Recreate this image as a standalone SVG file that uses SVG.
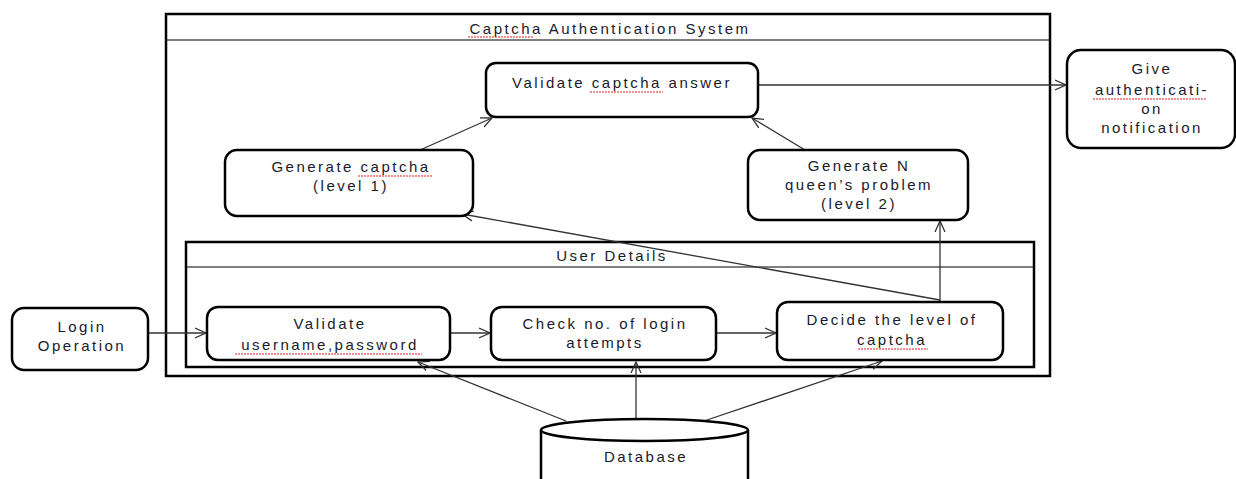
<svg xmlns="http://www.w3.org/2000/svg" width="1236" height="479" viewBox="0 0 1236 479">
<style>
.frame{fill:none;stroke:#000;stroke-width:2.5}
.box{fill:#fff;stroke:#000;stroke-width:2.5}
.t{font-family:"Liberation Sans",Arial,sans-serif;font-size:15px;letter-spacing:2.5px;fill:#1a1a2a;text-anchor:middle}
.c{fill:none;stroke:#333;stroke-width:1.3;marker-end:url(#a)}
.sp{fill:none;stroke:#e02020;stroke-width:1;stroke-dasharray:2 1}
</style>
<defs>
<marker id="a" viewBox="0 0 12 12" refX="11" refY="6" markerWidth="12" markerHeight="12" markerUnits="userSpaceOnUse" orient="auto">
<path d="M0,1 L11,6 L0,11" fill="none" stroke="#333" stroke-width="1.3"/>
</marker>
</defs>
<rect width="1236" height="479" fill="#fff"/>
<g id="system">
<rect class="frame" x="166" y="14" width="884" height="362"/>
<line x1="166" y1="40" x2="1050" y2="40" stroke="#000" stroke-width="1.2"/>
<text class="t" x="610" y="34">Captcha Authentication System</text>
<path class="sp" d="M468,37 l66,0"/>
</g>
<g id="userdetails">
<rect class="frame" x="186" y="242" width="848" height="125"/>
<line x1="186" y1="267" x2="1034" y2="267" stroke="#000" stroke-width="1.2"/>
<text class="t" x="612" y="261">User Details</text>
</g>
<g id="connectors">
<line class="c" x1="148" y1="333" x2="206" y2="333"/>
<line class="c" x1="450" y1="333" x2="490" y2="333"/>
<line class="c" x1="716" y1="333" x2="776" y2="333"/>
<line class="c" x1="940" y1="302" x2="940" y2="221"/>
<line class="c" x1="940" y1="300" x2="462" y2="214"/>
<line class="c" x1="420" y1="150" x2="492" y2="118"/>
<line class="c" x1="805" y1="150" x2="752" y2="118"/>
<line class="c" x1="758" y1="85" x2="1066" y2="85"/>
<line class="c" x1="566" y1="421" x2="418" y2="362"/>
<line class="c" x1="636" y1="421" x2="636" y2="362"/>
<line class="c" x1="704" y1="421" x2="882" y2="361"/>
</g>
<g id="validate-captcha">
<rect class="box" x="486" y="63" width="272" height="54" rx="10"/>
<text class="t" x="622" y="88">Validate  captcha answer</text>
<path class="sp" d="M590,92 l73,0"/>
</g>
<g id="generate-captcha">
<rect class="box" x="225" y="150" width="248" height="66" rx="12"/>
<text class="t" x="351" y="172">Generate captcha</text>
<text class="t" x="351" y="191">(level 1)</text>
<path class="sp" d="M358,176 l74,0"/>
</g>
<g id="generate-nqueen">
<rect class="box" x="748" y="150" width="220" height="70" rx="12"/>
<text class="t" x="859" y="171">Generate N</text>
<text class="t" x="859" y="190">queen’s problem</text>
<text class="t" x="859" y="209">(level 2)</text>
</g>
<g id="give-notification">
<rect class="box" x="1067" y="50" width="168" height="98" rx="14"/>
<text class="t" x="1152" y="74">Give</text>
<text class="t" x="1152" y="95">authenticati-</text>
<text class="t" x="1152" y="114">on</text>
<text class="t" x="1152" y="133">notification</text>
<path class="sp" d="M1093,99 l114,0"/>
</g>
<g id="login">
<rect class="box" x="12" y="308" width="136" height="62" rx="12"/>
<text class="t" x="82" y="332">Login</text>
<text class="t" x="82" y="351">Operation</text>
</g>
<g id="validate-user">
<rect class="box" x="207" y="307" width="243" height="53" rx="11"/>
<text class="t" x="330" y="329">Validate</text>
<text class="t" x="330" y="350">username,password</text>
<path class="sp" d="M235,354 l187,0"/>
</g>
<g id="check-attempts">
<rect class="box" x="491" y="307" width="225" height="53" rx="11"/>
<text class="t" x="605" y="329">Check no. of login</text>
<text class="t" x="605" y="348">attempts</text>
</g>
<g id="decide-level">
<rect class="box" x="777" y="302" width="226" height="58" rx="11"/>
<text class="t" x="892" y="325">Decide the level of</text>
<text class="t" x="892" y="345">captcha</text>
<path class="sp" d="M858,349 l70,0"/>
</g>
<g id="database">
<path class="box" d="M541,430 L541,482 L748,482 L748,430"/>
<ellipse class="box" cx="644.5" cy="430" rx="103.5" ry="11"/>
<text class="t" x="646" y="462">Database</text>
</g>
</svg>
